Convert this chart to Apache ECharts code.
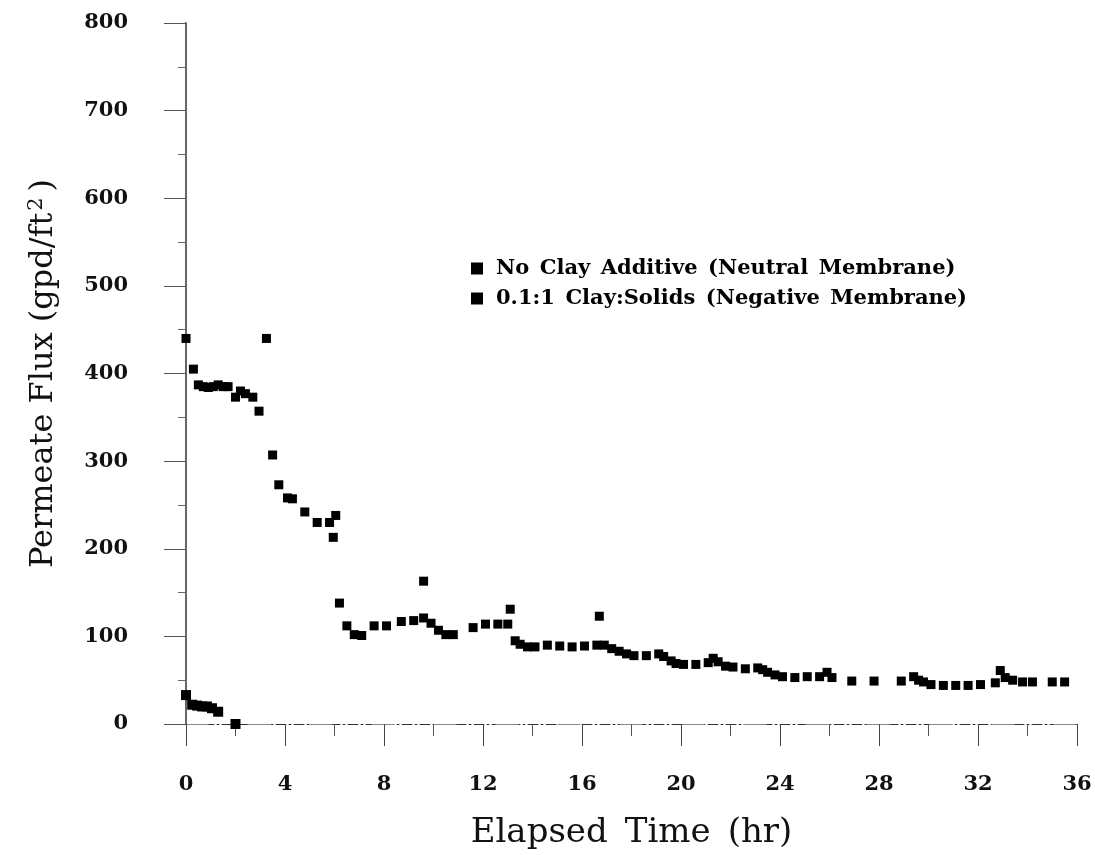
<!DOCTYPE html>
<html>
<head>
<meta charset="utf-8">
<script src="https://cdn.jsdelivr.net/npm/echarts@6/dist/echarts.min.js"></script>
<style>
html,body{margin:0;padding:0;background:#fff;}
#chart{width:1095px;height:855px;}
</style>
</head>
<body>
<div id="chart"></div>
<script>
// Series names
const seriesNames = ['No Clay Additive (Neutral Membrane)', '0.1:1 Clay:Solids (Negative Membrane)'];

// No Clay Additive: elapsed time (hr) and flux (gpd/ft2)
const neutralTime = [0, 0.25, 0.45, 0.65, 0.85, 1.05, 1.3, 2.0];
const neutralFlux = [33, 22, 21, 20, 20, 18, 14, 0];

// 0.1:1 Clay:Solids: elapsed time (hr) and flux (gpd/ft2)
const clayTime = [0, 0.3, 0.5, 0.7, 0.9, 1.1, 1.3, 1.5, 1.7, 2.0, 2.2, 2.4, 2.7, 2.95, 3.25, 3.5, 3.75, 4.1, 4.3, 4.8, 5.3, 5.8, 6.05, 5.95, 6.2,
  6.5, 6.8, 7.1, 7.6, 8.1, 8.7, 9.2, 9.6, 9.6, 9.9, 10.2, 10.5, 10.8, 11.6, 12.1, 12.6, 13.0, 13.1, 13.3, 13.5, 13.8, 14.1, 14.6, 15.1, 15.6, 16.1, 16.6, 16.7, 16.9,
  17.2, 17.5, 17.8, 18.1, 18.6, 19.1, 19.3, 19.6, 19.8, 20.1, 20.6, 21.1, 21.3, 21.5, 21.8, 22.1, 22.6, 23.1, 23.3, 23.5, 23.8, 24.1, 24.6, 25.1, 25.6, 25.9, 26.1,
  26.9, 27.8, 28.9, 29.4, 29.6, 29.8, 30.1, 30.6, 31.1, 31.6, 32.1, 32.7, 32.9, 33.1, 33.4, 33.8, 34.2, 35.0, 35.5];
const clayFlux = [440, 405, 387, 385, 384, 385, 387, 385, 385, 373, 380, 377, 373, 357, 440, 307, 273, 258, 257, 242, 230, 230, 238, 213, 138,
  112, 102, 101, 112, 112, 117, 118, 163, 121, 115, 107, 102, 102, 110, 114, 114, 114, 131, 95, 91, 88, 88, 90, 89, 88, 89, 90, 123, 90,
  86, 83, 80, 78, 78, 80, 77, 72, 69, 68, 68, 70, 75, 71, 66, 65, 63, 64, 62, 59, 56, 54, 53, 54, 54, 59, 53,
  49, 49, 49, 54, 50, 48, 45, 44, 44, 44, 45, 47, 61, 53, 50, 48, 48, 48, 48];

// Axis ticks
const xTicks = [0, 4, 8, 12, 16, 20, 24, 28, 32, 36];
const yTicks = [0, 100, 200, 300, 400, 500, 600, 700, 800];

const serif = 'DejaVu Serif';
const chart = echarts.init(document.getElementById('chart'), null, {renderer: 'canvas'});

const zip = (a, b) => a.map((v, i) => [v, b[i]]);
const widen = s => s.replace(/ /g, '\u2002');

chart.setOption({
  animation: false,
  backgroundColor: '#ffffff',
  grid: {left: 186, right: 18, top: 23, bottom: 130, containLabel: false},
  legend: {
    orient: 'vertical',
    left: 466,
    top: 253,
    itemGap: 9,
    itemWidth: 12,
    itemHeight: 12,
    icon: 'rect',
    formatter: name => widen(name),
    textStyle: {fontFamily: serif, fontSize: 21, fontWeight: 'bold', color: '#000', padding: [0, 0, 0, 8]},
    data: seriesNames
  },
  xAxis: [{
    type: 'value',
    min: xTicks[0], max: xTicks[xTicks.length - 1], interval: 4,
    name: widen('Elapsed Time (hr)'),
    nameLocation: 'middle',
    nameGap: 92,
    nameTextStyle: {fontFamily: serif, fontSize: 34, color: '#111'},
    axisLine: {show: true, lineStyle: {color: '#333', width: 1, type: [10, 3, 2, 3]}},
    axisTick: {show: true, inside: false, length: 22, lineStyle: {color: '#444', width: 1}},
    minorTick: {show: true, splitNumber: 2, length: 12, lineStyle: {color: '#555', width: 1}},
    axisLabel: {fontFamily: serif, fontSize: 21, fontWeight: 'bold', color: '#111', margin: 50},
    splitLine: {show: false}
  }, {
    type: 'value', position: 'top',
    min: xTicks[0], max: xTicks[xTicks.length - 1], interval: 4,
    axisLine: {show: true, lineStyle: {color: '#888', width: 1, type: [22, 40]}},
    axisTick: {show: false}, axisLabel: {show: false}, splitLine: {show: false}
  }],
  yAxis: [{
    type: 'value',
    min: yTicks[0], max: yTicks[yTicks.length - 1], interval: 100,
    name: '{a|Permeate Flux (gpd/ft}{s|2}{a|)}',
    nameLocation: 'middle',
    nameGap: 125,
    nameRotate: 90,
    nameTextStyle: {
      rich: {
        a: {fontFamily: serif, fontSize: 32, color: '#111'},
        s: {fontFamily: serif, fontSize: 21, color: '#111', padding: [0, 6, 14, 2]}
      }
    },
    axisLine: {show: true, lineStyle: {color: '#222', width: 1.5, type: [12, 2, 2, 2]}},
    axisTick: {show: true, inside: false, length: 22, lineStyle: {color: '#555', width: 1}},
    minorTick: {show: true, splitNumber: 2, length: 8, lineStyle: {color: '#666', width: 1}},
    axisLabel: {fontFamily: serif, fontSize: 21, fontWeight: 'bold', color: '#111', margin: 58},
    splitLine: {show: false}
  }, {
    type: 'value', position: 'right',
    min: yTicks[0], max: yTicks[yTicks.length - 1], interval: 100,
    axisLine: {show: true, lineStyle: {color: '#666', width: 2}},
    axisTick: {show: false}, axisLabel: {show: false}, splitLine: {show: false}
  }],
  series: [{
    name: seriesNames[0],
    type: 'scatter',
    symbol: 'rect',
    symbolSize: 10,
    itemStyle: {color: '#000', opacity: 1},
    data: zip(neutralTime, neutralFlux)
  }, {
    name: seriesNames[1],
    type: 'scatter',
    symbol: 'rect',
    symbolSize: 9,
    itemStyle: {color: '#000', opacity: 1},
    data: zip(clayTime, clayFlux)
  }]
});
</script>
</body>
</html>
